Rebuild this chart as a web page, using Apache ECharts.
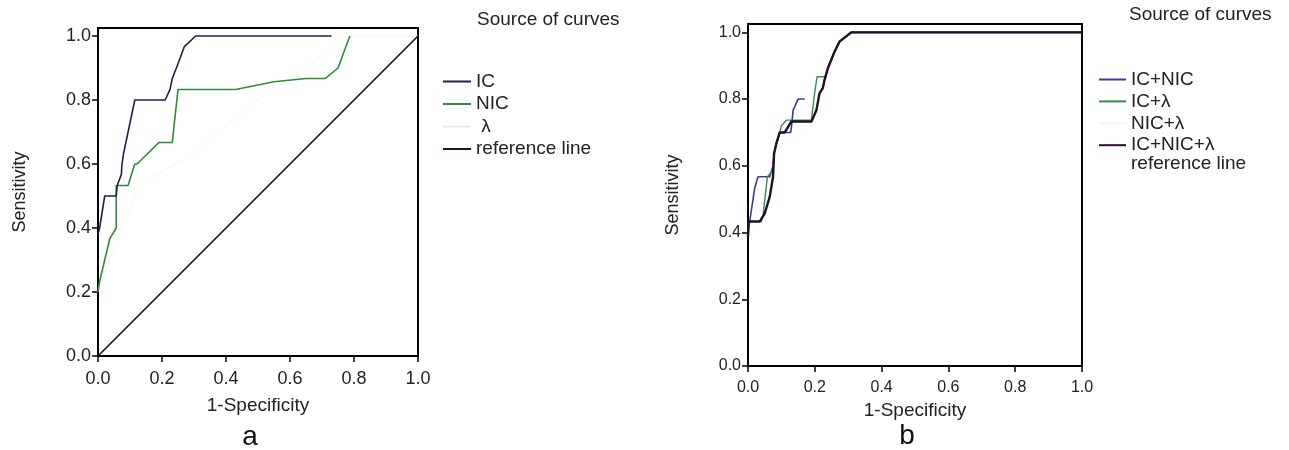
<!DOCTYPE html>
<html>
<head>
<meta charset="utf-8">
<script src="https://cdn.jsdelivr.net/npm/echarts@6/dist/echarts.min.js"></script>
<style>
  html, body { margin: 0; padding: 0; background: #fff; }
  #chart { width: 1289px; height: 450px; }
</style>
</head>
<body>
<div id="chart"></div>
<script>
// Tick positions shared by both ROC panels
const xTicks = [0, 0.2, 0.4, 0.6, 0.8, 1.0];
const yTicks = [0, 0.2, 0.4, 0.6, 0.8, 1.0];

// Panel a: single-marker ROC curves, [1-specificity, sensitivity]
const icCurve = [[0,0.38],[0.005,0.4],[0.021,0.5],[0.057,0.5],[0.06,0.533],[0.073,0.567],[0.075,0.6],[0.08,0.633],[0.094,0.7],[0.115,0.8],[0.21,0.8],[0.225,0.833],[0.232,0.867],[0.245,0.9],[0.27,0.967],[0.305,1],[0.73,1]];
const nicCurve = [[0,0.2],[0.005,0.233],[0.037,0.367],[0.057,0.4],[0.057,0.533],[0.094,0.533],[0.115,0.6],[0.122,0.6],[0.19,0.667],[0.232,0.667],[0.25,0.833],[0.43,0.833],[0.55,0.857],[0.65,0.867],[0.71,0.867],[0.75,0.9],[0.787,1.0]];
const lambdaCurve = [[0,0.2],[0.06,0.37],[0.135,0.54],[0.28,0.62],[0.5,0.8],[0.787,1.0],[1,1]];
const referenceLine = [[0,0],[1,1]];

// Panel b: combined-marker ROC curves
const icNicCurve = [[0,0.4],[0.02,0.533],[0.03,0.567],[0.065,0.567],[0.075,0.6],[0.078,0.637],[0.085,0.667],[0.095,0.7],[0.128,0.7],[0.132,0.733],[0.135,0.767],[0.15,0.8],[0.17,0.8],['-','-'],[0.214,0.817],[0.224,0.833],[0.229,0.857],[0.239,0.892],[0.259,0.942],[0.274,0.972],[0.309,1],[1,1]];
const icLambdaCurve = [[0,0.387],[0.002,0.433],[0.04,0.433],[0.045,0.452],[0.058,0.567],[0.075,0.587],[0.078,0.637],[0.085,0.667],[0.095,0.7],[0.1,0.72],[0.115,0.737],[0.19,0.737],[0.194,0.772],[0.2,0.822],[0.207,0.867],[0.232,0.867],[0.239,0.892],[0.259,0.942],[0.274,0.972],[0.309,1],[1,1]];
const nicLambdaCurve = [[0,0.387],[0.002,0.433],[0.035,0.433],[0.05,0.457],[0.065,0.507],[0.075,0.567],[0.078,0.637],[0.085,0.667],[0.095,0.7],[0.11,0.7],[0.13,0.733],[0.19,0.733],[0.205,0.767],[0.214,0.817],[0.224,0.833],[0.229,0.857],[0.239,0.892],[0.259,0.942],[0.274,0.972],[0.309,1],[1,1]];
const icNicLambdaCurve = [[0,0.387],[0.002,0.433],[0.035,0.433],[0.05,0.457],[0.065,0.507],[0.075,0.567],[0.078,0.637],[0.085,0.667],[0.095,0.7],[0.11,0.7],[0.13,0.733],[0.19,0.733],[0.205,0.767],[0.214,0.817],[0.224,0.833],[0.229,0.857],[0.239,0.892],[0.259,0.942],[0.274,0.972],[0.309,1],[1,1]];

const FONT = "'Liberation Sans', Arial, sans-serif";
const fmt = v => Number(v).toFixed(1);

function xAxisFor(gridIndex, nameGap, fontSize) {
  return {
    type: 'value', gridIndex, min: 0, max: 1, interval: 0.2,
    name: '1-Specificity', nameLocation: 'middle', nameGap,
    nameTextStyle: { fontFamily: FONT, fontSize: 19, color: '#222' },
    axisLine: { show: true, onZero: false, lineStyle: { color: '#000', width: 2 } },
    axisTick: { show: true, inside: false, length: 6, lineStyle: { color: '#000', width: 1.5 }, customValues: xTicks },
    axisLabel: { customValues: xTicks, formatter: fmt, margin: 14, fontFamily: FONT, fontSize, color: '#222' },
    splitLine: { show: false }
  };
}
function yAxisFor(gridIndex, nameGap, fontSize) {
  return {
    type: 'value', gridIndex, min: 0, max: 1.025,
    name: 'Sensitivity', nameLocation: 'middle', nameGap,
    nameTextStyle: { fontFamily: FONT, fontSize: 18, color: '#222' },
    axisLine: { show: true, onZero: false, lineStyle: { color: '#000', width: 2 } },
    axisTick: { show: true, inside: false, length: 6, lineStyle: { color: '#000', width: 1.5 }, customValues: yTicks },
    axisLabel: { customValues: yTicks, formatter: fmt, margin: 7, fontFamily: FONT, fontSize, color: '#222' },
    splitLine: { show: false }
  };
}

function curve(name, data, color, width, axisIndex, z) {
  return {
    name, type: 'line', data, xAxisIndex: axisIndex, yAxisIndex: axisIndex,
    showSymbol: false, symbol: 'none', connectNulls: false, z: z || 2,
    lineStyle: { color, width }, itemStyle: { color }
  };
}

const chart = echarts.init(document.getElementById('chart'), null, { renderer: 'canvas' });
chart.setOption({
  animation: false,
  backgroundColor: '#fff',
  grid: [
    { left: 98, top: 28, width: 320, height: 328, show: true, borderColor: '#000', borderWidth: 2, backgroundColor: 'transparent' },
    { left: 748, top: 24, width: 334, height: 342, show: true, borderColor: '#000', borderWidth: 2, backgroundColor: 'transparent' }
  ],
  xAxis: [xAxisFor(0, 40, 18), xAxisFor(1, 32, 16)],
  yAxis: [yAxisFor(0, 69, 18), yAxisFor(1, 66, 16)],
  legend: [
    {
      orient: 'vertical', left: 443, top: 72, itemWidth: 28, itemHeight: 2, itemGap: 3.5,
      icon: 'rect', selectedMode: false, padding: 0,
      textStyle: { fontFamily: FONT, fontSize: 19, lineHeight: 19, color: '#222' },
      data: [
        { name: 'IC' },
        { name: 'NIC' },
        { name: ' λ', itemStyle: { color: '#e8e8e2' } },
        { name: 'reference line', itemStyle: { color: '#2a1030' } }
      ]
    },
    {
      orient: 'vertical', left: 1099, top: 70, itemWidth: 27, itemHeight: 2, itemGap: 2.9,
      icon: 'rect', selectedMode: false, padding: 0,
      textStyle: { fontFamily: FONT, fontSize: 19, lineHeight: 19, color: '#222' },
      data: [
        { name: 'IC+NIC', itemStyle: { color: '#3a3f8c' } },
        { name: 'IC+λ', itemStyle: { color: '#3a8a4c' } },
        { name: 'NIC+λ', itemStyle: { color: '#f6f6f0' } },
        { name: 'IC+NIC+λ', itemStyle: { color: '#2a0c30' } }
      ]
    }
  ],
  graphic: [
    { type: 'text', left: 477, top: 10, style: { text: 'Source of curves', font: `19px ${FONT}`, fill: '#222' } },
    { type: 'text', left: 1129, top: 5, style: { text: 'Source of curves', font: `19px ${FONT}`, fill: '#222' } },
    { type: 'text', left: 1131, top: 154, style: { text: 'reference line', font: `19px ${FONT}`, fill: '#222' } },
    { type: 'text', x: 250, y: 437, style: { text: 'a', font: `28px ${FONT}`, fill: '#111', align: 'center', verticalAlign: 'middle' } },
    { type: 'text', x: 907, y: 436, style: { text: 'b', font: `28px ${FONT}`, fill: '#111', align: 'center', verticalAlign: 'middle' } }
  ],
  series: [
    curve(' λ', lambdaCurve, '#f8f8e6', 1, 0, 1),
    curve('reference line', referenceLine, '#111', 1.6, 0, 2),
    curve('NIC', nicCurve, '#2e8b3c', 1.6, 0, 3),
    curve('IC', icCurve, '#1c2050', 1.6, 0, 4),

    curve('NIC+λ', nicLambdaCurve, '#f8f8f2', 1, 1, 1),
    curve('IC+NIC', icNicCurve, '#3a3f8c', 1.6, 1, 2),
    curve('IC+λ', icLambdaCurve, '#3a8a4c', 1.4, 1, 3),
    curve('IC+NIC+λ', icNicLambdaCurve, '#1f1024', 2.4, 1, 4)
  ]
});
</script>
</body>
</html>
